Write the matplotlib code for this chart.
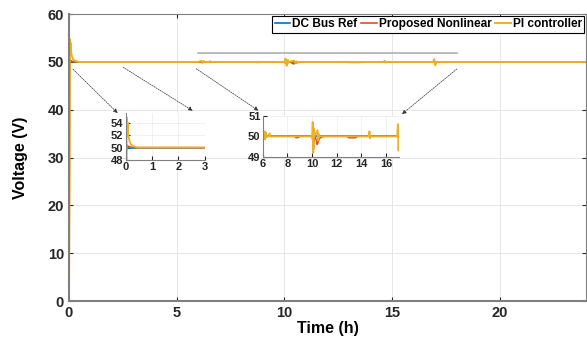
import matplotlib.pyplot as plt

plt.rcParams['font.family'] = ['Liberation Sans', 'DejaVu Sans']
plt.rcParams['font.weight'] = 'bold'

# DC bus voltage over one day (hours, volts)
t_ref = [0, 24]
v_ref = [50, 50]

t_nl = [0, 0.03, 0.06, 0.1, 0.15, 0.25, 0.4, 6.0, 6.2, 6.3, 8.6, 8.7, 8.9, 9.0,
        10.0, 10.08, 10.12, 10.18, 10.3, 10.42, 10.48, 10.6, 10.8, 11.0,
        12.8, 13.0, 13.5, 13.7, 16.9, 17.0, 24]
v_nl = [0, 49.2, 50.4, 50.2, 50.1, 50.05, 50.0, 50.0, 49.9, 50.0, 50.0, 49.93, 49.95, 50.0,
        50.0, 49.7, 49.4, 50.1, 49.9, 49.6, 49.7, 49.9, 49.97, 50.0,
        50.0, 49.93, 49.93, 50.0, 50.0, 50.0, 50.0]

t_pi = [0, 0.02, 0.04, 0.06, 0.08, 0.1, 0.12, 0.15, 0.2, 0.3, 0.45, 6.0, 6.15, 6.2, 6.25, 6.3,
        6.5, 6.55, 6.6, 10.0, 10.05, 10.1, 10.15, 10.2, 10.45, 10.5, 10.55, 10.6,
        14.6, 14.65, 14.7, 14.75, 16.9, 16.95, 17.0, 17.05, 24]
v_pi = [0, 20, 54.8, 52.5, 54.0, 51.8, 51.6, 51.0, 50.5, 50.2, 50.0, 50.0, 50.25, 49.85, 50.2, 50.0,
        50.0, 50.15, 50.0, 50.0, 50.7, 49.2, 50.4, 50.0, 50.3, 49.8, 50.1, 50.0,
        50.0, 50.25, 49.9, 50.0, 50.0, 50.6, 49.3, 50.0, 50.0]

x_ticks = [0, 5, 10, 15, 20]
y_ticks = [0, 10, 20, 30, 40, 50, 60]

c_ref = '#0072BD'
c_nl = '#D95319'
c_pi = '#EDB120'
spine_gray = '#808080'


def style(ax, size):
    for s in ax.spines.values():
        s.set_color(spine_gray)
    ax.tick_params(direction='in', colors='#262626', labelsize=size, width=0.8, length=3)
    for lab in ax.get_xticklabels() + ax.get_yticklabels():
        lab.set_fontweight('bold')


def draw_lines(ax, lw):
    ax.plot(t_ref, v_ref, color=c_ref, lw=lw, label='DC Bus Ref')
    ax.plot(t_nl, v_nl, color=c_nl, lw=lw, label='Proposed Nonlinear')
    ax.plot(t_pi, v_pi, color=c_pi, lw=lw + 0.2, label='PI controller')


fig = plt.figure(figsize=(5.87, 3.45), dpi=100)
ax = fig.add_axes([0.1175, 0.1275, 0.881, 0.8315])
draw_lines(ax, 1.2)
ax.set_xlim(0, 24)
ax.set_ylim(0, 60)
ax.set_xticks(x_ticks)
ax.set_yticks(y_ticks)
ax.grid(True, color='#e3e3e3', lw=0.6)
ax.tick_params(top=True, right=True)
style(ax, 10.5)
for s in ['left', 'bottom']:
    ax.spines[s].set_linewidth(1.5)
ax.set_xlabel('Time (h)', fontsize=11.5, fontweight='bold', labelpad=1)
ax.set_ylabel('Voltage (V)', fontsize=11.5, fontweight='bold', labelpad=14)

leg = ax.legend(loc='upper right', ncol=3, handlelength=1.3,
                handletextpad=0.15, columnspacing=0.35, borderpad=0.2,
                borderaxespad=0.15, fancybox=False, framealpha=1,
                edgecolor='black', prop={'weight': 'bold', 'size': 8.6})
leg.get_frame().set_linewidth(0.8)

# zoom region marker
ax.plot([6, 18], [51.8, 51.8], color='#b0b0b0', lw=1.2)

# arrows towards insets
arrows = [((0.09, 48.9), (2.35, 38.9)),
          ((2.4, 49.2), (5.85, 39.5)),
          ((5.8, 48.9), (8.9, 39.5)),
          ((18.1, 48.9), (15.35, 38.7))]
for start, end in arrows:
    ax.annotate('', xy=end, xytext=start,
                arrowprops=dict(arrowstyle='-|>', color='#333333', lw=0.5,
                                ls=(0, (2, 1.5)), mutation_scale=6))

# inset 1: start-up
ax1 = fig.add_axes([0.214, 0.536, 0.135, 0.136])
draw_lines(ax1, 1.1)
ax1.set_xlim(0, 3)
ax1.set_ylim(48, 55.5)
ax1.set_xticks([0, 1, 2, 3])
ax1.set_yticks([48, 50, 52, 54])
ax1.grid(True, color='#ececec', lw=0.5)
ax1.spines['top'].set_visible(False)
ax1.spines['right'].set_visible(False)
style(ax1, 8)
ax1.tick_params(pad=1.5)

# inset 2: disturbances
ax2 = fig.add_axes([0.4475, 0.5458, 0.2324, 0.118])
draw_lines(ax2, 1.1)
ax2.set_xlim(6, 17.05)
ax2.set_ylim(49, 51)
ax2.set_xticks([6, 8, 10, 12, 14, 16])
ax2.set_yticks([49, 50, 51])
ax2.grid(True, color='#ececec', lw=0.5)
ax2.spines['top'].set_visible(False)
ax2.spines['right'].set_visible(False)
style(ax2, 8)
ax2.tick_params(pad=1.5)

fig.savefig('out.png', dpi=100)
